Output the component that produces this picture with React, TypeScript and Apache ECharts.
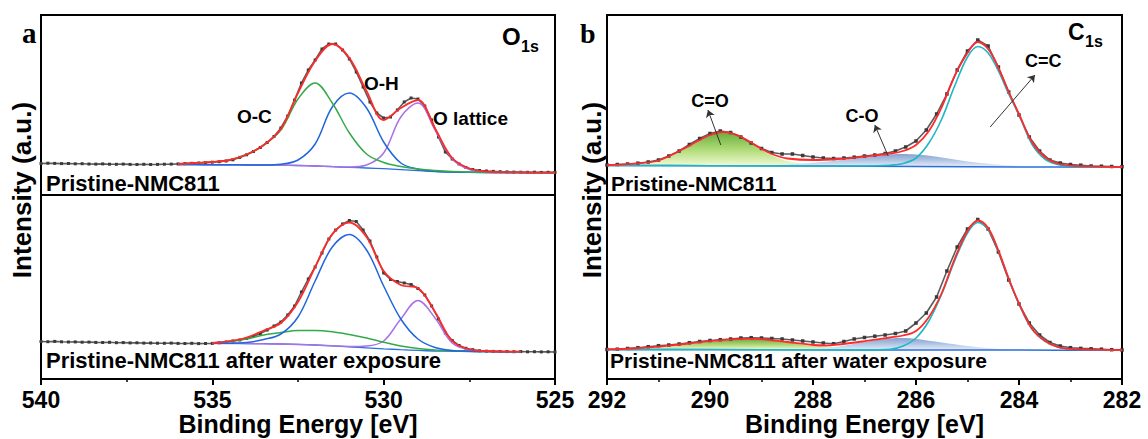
import React, { useEffect, useRef } from "react";
import * as echarts from "echarts";

// ---------------- Panel a : O 1s ----------------
// measured spectra, 540 -> 525 eV, 0.2 eV step
const A_OBS_START = 540;
const A_OBS_STEP = -0.2;
const A_OBS_TOP = [
  31.5, 31.8, 31.6, 31.4, 31.5, 31.2, 31.3, 31.0, 30.9, 31.1,
  30.8, 30.7, 30.9, 30.6, 30.5, 30.7, 30.5, 30.6, 30.8, 30.9,
  31.1, 31.4, 31.7, 32.0, 32.4, 32.8, 33.3, 34.0, 35.2, 37.6,
  40.2, 43.5, 47.5, 52.5, 58.5, 67, 79, 95, 112, 125,
  135, 146, 151, 151, 145, 136, 123, 108, 93, 82,
  77, 78, 85, 93, 97, 96, 89, 75, 58, 43,
  36, 31, 27.5, 25.5, 24.5, 24.0, 23.6, 23.3, 23.1, 22.9,
  22.8, 22.7, 22.8, 22.6, 22.7, 22.6,
];
const A_OBS_BOT = [
  37.5, 37.3, 37.6, 37.2, 37.0, 37.1, 36.8, 36.9, 36.6, 36.5,
  36.7, 36.3, 36.4, 36.1, 36.2, 35.9, 36.0, 35.8, 35.7, 35.9,
  35.6, 35.5, 35.7, 35.4, 35.5, 35.6, 36.2, 37.0, 38.0, 39.0,
  40.5, 42.5, 45.5, 49, 53, 57, 64, 73, 87, 100,
  112, 126, 140, 149, 155, 158.5, 157.5, 149, 138, 122,
  106, 99.5, 97.5, 96, 94.5, 90.5, 84, 73, 60, 46,
  38.5, 33.5, 30.7, 29.3, 28.2, 27.8, 27.6, 27.5, 27.4, 27.3,
  27.4, 27.2, 27.3, 27.1, 27.2, 27.0,
];
// fitted components, top (pristine)
const A_TOP_FIT_E = [536, 535.5, 535, 534.5, 534, 533.5, 533, 532.5, 532, 531.5, 531, 530.5, 530, 529.5, 529, 528.5, 528, 527.5, 527, 526.5, 526, 525.5, 525];
const A_TOP_BG = [30.5, 30.4, 30.3, 30.2, 30.1, 30, 29.8, 29.5, 29, 28.3, 27.6, 27, 26.3, 25.3, 24.3, 23.4, 22.9, 22.6, 22.5, 22.4, 22.4, 22.3, 22.3];
const A_TOP_OC = [31, 32, 33, 35, 40.5, 50, 65, 96, 112, 92, 62, 41, 32.5, 28.5, 26, 24.5, 23.5, 23, 22.7, 22.5, 22.4, 22.3, 22.3];
const A_TOP_OH = [30.5, 30.4, 30.3, 30.2, 30.1, 30.1, 30.8, 35, 51, 88, 102, 87, 53, 32, 25.8, 23.8, 23, 22.7, 22.5, 22.4, 22.4, 22.3, 22.3];
const A_TOP_OL = [30.5, 30.4, 30.3, 30.2, 30.1, 30, 29.8, 29.5, 29, 28.4, 28, 30, 42, 78, 92, 65, 36, 25.5, 23, 22.5, 22.4, 22.3, 22.3];
const A_TOP_SUM = [31, 32, 33, 35, 40.5, 50, 66, 102, 134, 151, 137, 104, 75, 87, 95, 66.5, 37, 26.5, 23.5, 22.8, 22.6, 22.4, 22.3];
// fitted components, bottom (after water exposure)
const A_BOT_FIT_E = [535, 534.5, 534, 533.5, 533, 532.5, 532, 531.5, 531, 530.5, 530, 529.5, 529, 528.5, 528, 527.5, 527, 526.5, 526];
const A_BOT_BG = [35.7, 35.6, 35.5, 35.3, 35, 34.6, 34, 33.2, 32.2, 31.2, 30.2, 29.3, 28.6, 28, 27.7, 27.5, 27.4, 27.3, 27.3];
const A_BOT_OC = [36, 37.5, 40, 44, 46.5, 48.5, 48.5, 47.3, 44.5, 41, 36.8, 33, 30.5, 29, 28.2, 27.7, 27.5, 27.3, 27.3];
const A_BOT_OH = [35.7, 35.8, 36.5, 39.5, 45, 62, 98, 132, 144.5, 129, 93, 60, 40, 31.5, 28.5, 27.8, 27.5, 27.3, 27.3];
const A_BOT_OL = [35.6, 35.5, 35.4, 35.2, 35, 34.6, 34, 33.2, 32.5, 33, 38, 60, 78.5, 61, 36, 29, 27.7, 27.4, 27.3];
const A_BOT_SUM = [36, 37.8, 41.5, 48.5, 56, 77, 112, 145, 156.5, 142, 108, 94, 91, 67, 38, 29.6, 28, 27.4, 27.3];

// ---------------- Panel b : C 1s ----------------
const B_OBS_START = 292;
const B_OBS_STEP = -0.2;
const B_OBS_TOP = [
  30.0, 30.5, 31.0, 31.8, 33.0, 35.0, 39.0, 44.0, 50.5, 56.5,
  61.5, 64.0, 62.5, 58.0, 52.0, 46.5, 42.5, 41.0, 41.0, 39.5,
  38.0, 37.0, 36.5, 37.0, 37.8, 39.0, 40.0, 41.5, 44.0, 48.0,
  54.0, 65.0, 81.0, 101.0, 125.0, 144.0, 155.0, 149.0, 128.0, 103.0,
  80.0, 58.0, 44.0, 35.0, 32.0, 30.5, 29.8, 29.0, 28.8, 28.5,
  28.3,
];
const B_OBS_BOT = [
  29.5, 29.8, 30.5, 31.3, 32.3, 33.3, 34.0, 35.0, 36.3, 37.5,
  38.5, 39.3, 40.0, 41.0, 41.3, 41.0, 40.5, 40.0, 39.0, 38.0,
  37.0, 36.0, 35.3, 37.5, 40.0, 41.5, 42.8, 44.0, 45.5, 48.0,
  56.0, 66.0, 82.0, 108.0, 132.0, 150.0, 159.5, 150.0, 127.0, 99.0,
  75.0, 56.0, 44.0, 36.5, 33.0, 31.3, 30.6, 30.2, 29.8, 29.3,
  29.0,
];
const B_TOP_BG = [[292, 29.5], [290, 29.3], [288, 29.0], [286, 28.6], [284, 28.0], [282, 27.8]];
const B_TOP_CDO = [[292, 29.8], [291.5, 30.6], [291, 33.5], [290.5, 46], [290.25, 52.5], [290, 59.5], [289.75, 62.8], [289.5, 60], [289.25, 53], [289, 45], [288.75, 38.5], [288.5, 34], [288, 30.5], [287.5, 29.4], [287, 29.1]];
const B_TOP_CO = [[289, 29.2], [288.5, 30.5], [288, 32.2], [287.5, 34.8], [287, 38], [286.5, 40.5], [286.25, 41], [286, 40.5], [285.75, 39.3], [285.5, 37.5], [285, 33.5], [284.5, 30.8], [284, 29.2], [283.5, 28.5], [283, 28.2]];
const B_TOP_CC = [[292, 29.5], [290, 29.3], [288, 29.0], [287, 29.0], [286.5, 29.8], [286.25, 31.5], [286, 37], [285.75, 52], [285.5, 76], [285.25, 109], [285, 138], [284.8, 148.5], [284.6, 142], [284.4, 124], [284.2, 101], [284, 80], [283.75, 51], [283.5, 36], [283.25, 30.5], [283, 28.6], [282.5, 28], [282, 27.8]];
const B_TOP_SUM = [[292, 30], [291.5, 31.2], [291, 34.5], [290.5, 46.5], [290.25, 53.5], [290, 60], [289.75, 63], [289.5, 60.5], [289.25, 54], [289, 46], [288.75, 40], [288.5, 36.5], [288, 35], [287.5, 36], [287, 38.5], [286.5, 41.5], [286.25, 44], [286, 50], [285.75, 64], [285.5, 88], [285.25, 119], [285, 142], [284.8, 153], [284.6, 146], [284.4, 127], [284.2, 103], [284, 81], [283.75, 53], [283.5, 38], [283.25, 31.5], [283, 29.3], [282.5, 28.4], [282, 28]];
const B_BOT_BG = [[292, 29.5], [290, 29.4], [288, 29.2], [286, 29], [284, 28.9], [282, 28.8]];
const B_BOT_CDO = [[292, 29.6], [291.5, 30.3], [291, 32], [290.5, 34.5], [290, 37.3], [289.5, 39.3], [289.25, 39.7], [289, 39.3], [288.5, 36.5], [288, 33], [287.5, 30.8], [287, 29.8], [286.5, 29.4]];
const B_BOT_CO = [[288.5, 29.3], [288, 30], [287.5, 32.5], [287, 37], [286.5, 40.5], [286.25, 41], [286, 40], [285.5, 36.5], [285, 33], [284.5, 30.5], [284, 29.4], [283.5, 29], [283, 28.9]];
const B_BOT_CC = [[292, 29.4], [290, 29.3], [288, 29.1], [287, 29.1], [286.5, 29.8], [286.25, 33], [286, 41], [285.75, 58], [285.5, 85], [285.25, 118], [285, 146], [284.8, 156.5], [284.6, 150], [284.4, 128], [284.2, 100], [284, 75], [283.75, 50], [283.5, 38], [283.25, 32], [283, 30], [282.5, 29.2], [282, 28.9]];
const B_BOT_SUM = [[292, 29.6], [291.5, 30.5], [291, 32.3], [290.5, 35], [290, 37.8], [289.5, 39.8], [289.25, 40.2], [289, 39.8], [288.5, 37], [288, 34], [287.75, 33.5], [287.5, 34.5], [287, 37.8], [286.5, 41.5], [286.25, 43.5], [286, 48], [285.75, 62], [285.5, 86], [285.25, 120], [285, 148], [284.8, 158.5], [284.6, 151], [284.4, 128.5], [284.2, 100.5], [284, 75.5], [283.75, 50.5], [283.5, 38.3], [283.25, 32.2], [283, 30.1], [282.5, 29.3], [282, 29]];
// annotation arrows (C 1s, top): [from, to] in [eV, intensity]
const B_ARROWS = [
  [[289.79, 50], [290.04, 85]],
  [[286.54, 39], [286.8, 70]],
  [[284.56, 68], [283.69, 120]],
];

const FONT = "'Liberation Sans', Arial, Helvetica, sans-serif";
const SERIF = "'Liberation Serif', 'Times New Roman', serif";

const C_RED = "#ff2b2b";
const C_GREEN = "#33aa4a";
const C_BLUE = "#2166dc";
const C_PURPLE = "#a872e6";
const C_CYAN = "#1fb7c6";
const C_BASE = "#2a6fdb";

function obsPairs(start: number, step: number, vals: number[]) {
  return vals.map((v, i) => [Math.round((start + step * i) * 100) / 100, v]);
}
function zip(es: number[], vs: number[]) {
  return es.map((e, i) => [e, vs[i]]);
}

function obsSeries(idx: number, data: number[][], size = 3) {
  return {
    type: "line",
    xAxisIndex: idx,
    yAxisIndex: idx,
    data,
    symbol: "rect",
    symbolSize: size,
    showSymbol: true,
    showAllSymbol: true,
    itemStyle: { color: "#3a3a3a" },
    lineStyle: { color: "#5c5c5c", width: 1.6 },
    silent: true,
    z: 2,
  };
}
function fitLine(idx: number, data: number[][], color: string, width = 1.5, z = 3) {
  return {
    type: "line",
    xAxisIndex: idx,
    yAxisIndex: idx,
    data,
    smooth: 0.35,
    showSymbol: false,
    symbol: "none",
    lineStyle: { color, width },
    silent: true,
    z,
  };
}
function areaSeries(idx: number, data: number[][], origin: number, top: string, mid: string, bottom: string) {
  return {
    type: "line",
    xAxisIndex: idx,
    yAxisIndex: idx,
    data,
    smooth: 0.35,
    showSymbol: false,
    symbol: "none",
    lineStyle: { width: 0, opacity: 0 },
    areaStyle: {
      origin,
      opacity: 0.95,
      color: {
        type: "linear",
        x: 0,
        y: 0,
        x2: 0,
        y2: 1,
        colorStops: [
          { offset: 0, color: top },
          { offset: 0.5, color: mid },
          { offset: 1, color: bottom },
        ],
      },
    },
    silent: true,
    z: 1,
  };
}

function txt(t: string, x: number, baseline: number, size: number, extra: any = {}) {
  const family = extra.serif ? SERIF : FONT;
  const align = extra.align || "left";
  return {
    type: "text",
    x,
    y: baseline - 0.35 * size,
    silent: true,
    z: 100,
    style: {
      text: t,
      fill: "#000",
      font: `bold ${size}px ${family}`,
      textAlign: align,
      align,
      textVerticalAlign: "middle",
      verticalAlign: "middle",
    },
  };
}
function vtxt(t: string, x: number, y: number, size: number) {
  return {
    type: "text",
    x,
    y,
    rotation: Math.PI / 2,
    silent: true,
    z: 100,
    style: {
      text: t,
      fill: "#000",
      font: `bold ${size}px ${FONT}`,
      textAlign: "center",
      align: "center",
      textVerticalAlign: "middle",
      verticalAlign: "middle",
    },
  };
}

function bottomX(grid: number, min: number, max: number, interval: number) {
  return {
    gridIndex: grid,
    type: "value",
    min,
    max,
    interval,
    inverse: true,
    axisLine: { show: true, lineStyle: { color: "#000", width: 2 } },
    axisTick: { show: true, inside: false, length: 6, lineStyle: { color: "#000", width: 2 } },
    minorTick: { show: true, splitNumber: 2, length: 3, lineStyle: { color: "#000", width: 1.5 } },
    splitLine: { show: false },
    minorSplitLine: { show: false },
    axisLabel: { fontSize: 23, fontWeight: "bold", color: "#000", fontFamily: FONT, margin: 9 },
    name: "Binding Energy [eV]",
    nameLocation: "middle",
    nameGap: 24,
    nameTextStyle: { fontSize: 25, fontWeight: "bold", color: "#000", fontFamily: FONT },
  };
}
function topX(grid: number, min: number, max: number) {
  return { gridIndex: grid, type: "value", min, max, inverse: true, show: false, splitLine: { show: false } };
}

export default function App() {
  const ref = useRef<HTMLDivElement>(null);
  useEffect(() => {
    if (!ref.current) return;
    const chart = echarts.init(ref.current, undefined, { renderer: "svg" });
    const gridBase = { show: true, borderColor: "#000", borderWidth: 2, backgroundColor: "transparent", containLabel: false };
    const option: any = {
      animation: false,
      backgroundColor: "#fff",
      grid: [
        { ...gridBase, left: 41, top: 15, width: 514, height: 180 },
        { ...gridBase, left: 41, top: 195, width: 514, height: 184 },
        { ...gridBase, left: 607, top: 15, width: 515, height: 180 },
        { ...gridBase, left: 607, top: 195, width: 515, height: 184 },
      ],
      xAxis: [
        topX(0, 525, 540),
        bottomX(1, 525, 540, 5),
        topX(2, 282, 292),
        bottomX(3, 282, 292, 2),
      ],
      yAxis: [
        { gridIndex: 0, type: "value", min: 0, max: 180, show: false, splitLine: { show: false } },
        { gridIndex: 1, type: "value", min: 0, max: 184, show: false, splitLine: { show: false } },
        { gridIndex: 2, type: "value", min: 0, max: 180, show: false, splitLine: { show: false } },
        { gridIndex: 3, type: "value", min: 0, max: 184, show: false, splitLine: { show: false } },
      ],
      series: [
        // panel a, top
        obsSeries(0, obsPairs(A_OBS_START, A_OBS_STEP, A_OBS_TOP)),
        fitLine(0, zip(A_TOP_FIT_E, A_TOP_BG), C_BASE, 1.3),
        fitLine(0, zip(A_TOP_FIT_E, A_TOP_OL), C_PURPLE),
        fitLine(0, zip(A_TOP_FIT_E, A_TOP_OH), C_BLUE),
        fitLine(0, zip(A_TOP_FIT_E, A_TOP_OC), C_GREEN),
        fitLine(0, zip(A_TOP_FIT_E, A_TOP_SUM), C_RED, 1.8, 4),
        // panel a, bottom
        obsSeries(1, obsPairs(A_OBS_START, A_OBS_STEP, A_OBS_BOT)),
        fitLine(1, zip(A_BOT_FIT_E, A_BOT_BG), C_BASE, 1.3),
        fitLine(1, zip(A_BOT_FIT_E, A_BOT_OL), C_PURPLE),
        fitLine(1, zip(A_BOT_FIT_E, A_BOT_OC), C_GREEN),
        fitLine(1, zip(A_BOT_FIT_E, A_BOT_OH), C_BLUE),
        fitLine(1, zip(A_BOT_FIT_E, A_BOT_SUM), C_RED, 1.8, 4),
        // panel b, top
        areaSeries(2, B_TOP_CDO, 29.3, "#62a834", "#a9d86d", "#f0f9d2"),
        areaSeries(2, B_TOP_CO, 28.6, "#7f9dcc", "#aec3e3", "#e6edf7"),
        obsSeries(2, obsPairs(B_OBS_START, B_OBS_STEP, B_OBS_TOP), 3.5),
        fitLine(2, B_TOP_BG, C_BASE, 1.5),
        fitLine(2, B_TOP_CC, C_CYAN, 1.6),
        {
          ...fitLine(2, B_TOP_SUM, C_RED, 1.8, 4),
          markLine: {
            silent: true,
            symbol: ["none", "arrow"],
            symbolSize: 7,
            label: { show: false },
            lineStyle: { color: "#333", width: 1, type: "solid" },
            emphasis: { disabled: true },
            data: B_ARROWS.map(([a, b]) => [{ coord: a }, { coord: b }]),
          },
        },
        // panel b, bottom
        areaSeries(3, B_BOT_CDO, 29.4, "#6aa83a", "#a7d46c", "#eef8cf"),
        areaSeries(3, B_BOT_CO, 29.0, "#7f9dcc", "#aec3e3", "#e6edf7"),
        obsSeries(3, obsPairs(B_OBS_START, B_OBS_STEP, B_OBS_BOT), 3.5),
        fitLine(3, B_BOT_BG, C_BASE, 1.5),
        fitLine(3, B_BOT_CC, C_CYAN, 1.6),
        fitLine(3, B_BOT_SUM, C_RED, 1.8, 4),
      ],
      graphic: [
        txt("a", 22, 43, 29, { serif: true }),
        txt("b", 580, 43, 28, { serif: true }),
        txt("O", 502, 45, 24),
        txt("1s", 521, 52, 16),
        txt("C", 1068, 40, 23),
        txt("1s", 1085, 47, 16),
        txt("O-C", 237, 123, 19),
        txt("O-H", 364, 90, 19),
        txt("O lattice", 433, 125, 19),
        txt("C=O", 710, 107, 18, { align: "center" }),
        txt("C-O", 862, 122, 18, { align: "center" }),
        txt("C=C", 1025, 67, 18),
        txt("Pristine-NMC811", 46, 191, 22),
        txt("Pristine-NMC811 after water exposure", 46, 368, 22),
        txt("Pristine-NMC811", 611, 191, 21),
        txt("Pristine-NMC811 after water exposure", 610, 368, 21),
        vtxt("Intensity (a.u.)", 22, 190, 26),
        vtxt("Intensity (a.u.)", 592, 190, 26),
      ],
    };
    chart.setOption(option);
    return () => chart.dispose();
  }, []);
  return (
    <div
      ref={ref}
      style={{ position: "absolute", left: 0, top: 0, width: 1148, height: 439, background: "#fff" }}
    />
  );
}
